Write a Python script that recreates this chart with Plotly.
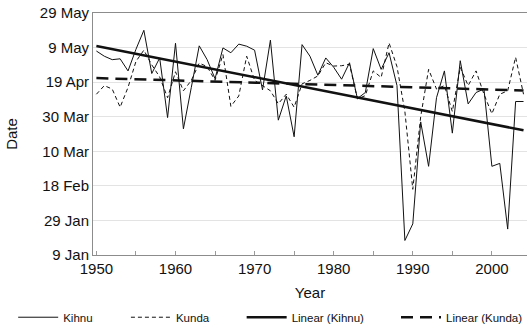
import numpy as np
import plotly.graph_objects as go

years = list(range(1950, 2005))

# Ice break-up date as day of year (non-leap calendar)
kihnu = [127, 124, 122, 122.5, 115.5, 128, 139, 114, 123, 88.5,
         131.5, 82, 106, 130, 122, 111, 128.8, 126, 131, 129.8,
         127.5, 104.5, 133.3, 87, 101, 77.4, 130.7, 124, 113, 123,
         117.6, 110.7, 120.2, 99.5, 103, 128.4, 116.4, 126, 107, 17.4,
         27, 86, 60.3, 100, 115.5, 79.5, 121.4, 96.4, 103, 105,
         60.3, 62, 24, 97.8, 97.8]

kunda = [102, 107, 105, 94.5, 106, 121, 127.5, 119, 112, 100,
         115, 104, 110, 120, 118, 110, 125, 95, 101, 124,
         110, 107, 104, 96.5, 102, 94.5, 108, 110, 112.6, 120.2,
         118.3, 118.5, 119.3, 99.3, 101.2, 115.5, 111.7, 131.7, 118, 92,
         47, 89, 116.4, 105, 107, 92, 117.6, 107, 115.5, 102,
         90.7, 102, 104, 123.4, 102]

y_tick_days = [9, 29, 49, 69, 89, 109, 129, 149]
y_tick_labels = ["9 Jan", "29 Jan", "18 Feb", "10 Mar", "30 Mar", "19 Apr", "9 May", "29 May"]
x_tick_years = [1950, 1960, 1970, 1980, 1990, 2000]

FONT = "Liberation Sans, Arial, sans-serif"
INK = "#111111"

xs = np.array(years, dtype=float)
k_fit = np.polyfit(xs, np.array(kihnu), 1)
u_fit = np.polyfit(xs, np.array(kunda), 1)
x_end = [years[0], years[-1]]

fig = go.Figure()
fig.add_trace(go.Scatter(x=years, y=kihnu, mode="lines", name="Kihnu",
                         line=dict(color=INK, width=1), legend="legend"))
fig.add_trace(go.Scatter(x=years, y=kunda, mode="lines", name="Kunda",
                         line=dict(color=INK, width=1, dash="4px,3px"), legend="legend2"))
fig.add_trace(go.Scatter(x=x_end, y=list(np.polyval(k_fit, x_end)), mode="lines",
                         name="Linear (Kihnu)", line=dict(color=INK, width=2.5),
                         legend="legend3"))
fig.add_trace(go.Scatter(x=x_end, y=list(np.polyval(u_fit, x_end)), mode="lines",
                         name="Linear (Kunda)", line=dict(color=INK, width=2.5, dash="12px,7px"),
                         legend="legend4"))

L, T, W, H = 93, 13, 435, 245


def leg(px):
    return dict(x=(px - L) / W, y=(T + H - 321) / H, xanchor="left", yanchor="middle",
                orientation="h", bgcolor="rgba(0,0,0,0)", itemwidth=40,
                font=dict(family=FONT, size=11.5, color=INK))


fig.update_layout(
    width=528, height=332,
    margin=dict(l=L, r=528 - L - W, t=T, b=332 - T - H),
    paper_bgcolor="white", plot_bgcolor="white",
    font=dict(family=FONT, color=INK),
    showlegend=True,
    legend=leg(13), legend2=leg(126), legend3=leg(242), legend4=leg(397),
)
fig.update_xaxes(
    range=[1949.57, 2004.44],
    tickmode="array", tickvals=x_tick_years, ticktext=[str(v) for v in x_tick_years],
    ticks="inside", ticklen=4, tickcolor="#9a9a9a",
    minor=dict(ticks="inside", ticklen=4, dtick=5, tick0=1950, tickcolor="#9a9a9a", showgrid=False),
    showgrid=False, zeroline=False,
    showline=True, linecolor="#8c8c8c", linewidth=1, mirror=True,
    tickfont=dict(family=FONT, size=15, color=INK),
    title=dict(text="Year", font=dict(family=FONT, size=15, color=INK), standoff=11),
)
fig.update_yaxes(
    range=[9, 149],
    tickmode="array", tickvals=y_tick_days, ticktext=y_tick_labels,
    ticks="", showgrid=True, gridcolor="#e3e3e3", gridwidth=1, zeroline=False,
    showline=True, linecolor="#8c8c8c", linewidth=1,
    tickfont=dict(family=FONT, size=15, color=INK),
    title=dict(text="Date", font=dict(family=FONT, size=15, color=INK), standoff=18),
)

fig.write_html("out.html")
